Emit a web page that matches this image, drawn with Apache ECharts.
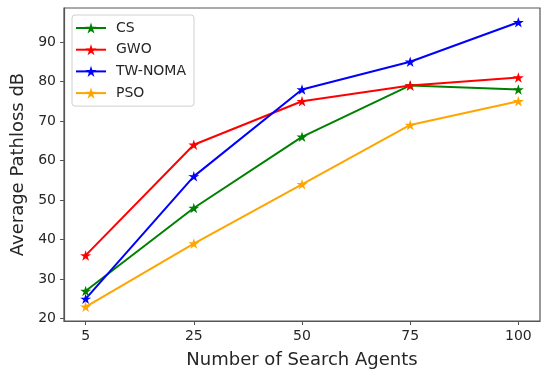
<!DOCTYPE html>
<html>
<head>
<meta charset="utf-8">
<script src="https://cdn.jsdelivr.net/npm/echarts@6/dist/echarts.min.js"></script>
<style>
html,body{margin:0;padding:0;background:#fff;}
#chart{width:550px;height:380px;}
</style>
</head>
<body>
<div id="chart"></div>
<script>
const categories = ['5', '25', '50', '75', '100'];
const csValues = [27, 48, 66, 79, 78];
const gwoValues = [36, 64, 75, 79, 81];
const twNomaValues = [25, 56, 78, 85, 95];
const psoValues = [23, 39, 54, 69, 75];
const yTicks = [20, 30, 40, 50, 60, 70, 80, 90];

const STAR = 'path://M50 0 L61.17 34.63 L97.55 34.55 L68.07 55.87 L79.39 90.45 L50 69 L20.61 90.45 L31.93 55.87 L2.45 34.55 L38.83 34.63 Z';
const idx = categories.map((c, i) => i);
const txt = '#262626';
const font = 'DejaVu Sans';

function mk(name, vals, color) {
  return {
    name: name,
    type: 'line',
    data: vals.map((v, i) => [i, v]),
    symbol: STAR,
    symbolSize: 11,
    symbolKeepAspect: true,
    showSymbol: true,
    lineStyle: { color: color, width: 2 },
    itemStyle: { color: color },
    emphasis: { disabled: true },
    animation: false
  };
}

const chart = echarts.init(document.getElementById('chart'), null, { renderer: 'canvas' });
chart.setOption({
  animation: false,
  backgroundColor: '#fff',
  textStyle: { fontFamily: font },
  grid: { left: 64, right: 10, top: 8, bottom: 59, show: true, borderColor: '#555', borderWidth: 1.2, backgroundColor: 'transparent' },
  legend: {
    orient: 'vertical',
    left: 72, top: 15,
    padding: [6, 8, 6, 3],
    itemWidth: 30, itemHeight: 14, itemGap: 7.7,
    backgroundColor: 'rgba(255,255,255,0.85)',
    borderColor: '#d0d0d0', borderWidth: 1, borderRadius: 3,
    textStyle: { fontFamily: font, fontSize: 14, color: txt, padding: [0, 0, 0, 5] },
    data: ['CS', 'GWO', 'TW-NOMA', 'PSO']
  },
  xAxis: {
    type: 'value', min: -0.2, max: 4.2,
    name: 'Number of Search Agents', nameLocation: 'middle', nameGap: 30,
    nameTextStyle: { fontFamily: font, fontSize: 18, color: txt },
    axisLine: { show: true, onZero: false, lineStyle: { color: '#555', width: 1.2 } },
    axisTick: { show: true, length: 4, customValues: idx, lineStyle: { color: '#555' } },
    axisLabel: { customValues: idx, formatter: v => categories[Math.round(v)], fontFamily: font, fontSize: 14, color: txt, margin: 8 },
    splitLine: { show: false }
  },
  yAxis: {
    type: 'value', min: 19.4, max: 98.6,
    name: 'Average Pathloss dB', nameLocation: 'middle', nameGap: 37, nameRotate: 90,
    nameTextStyle: { fontFamily: font, fontSize: 18, color: txt },
    axisLine: { show: true, onZero: false, lineStyle: { color: '#555', width: 1.2 } },
    axisTick: { show: true, length: 4, customValues: yTicks, lineStyle: { color: '#555' } },
    axisLabel: { customValues: yTicks, fontFamily: font, fontSize: 14, color: txt, margin: 8 },
    splitLine: { show: false }
  },
  series: [
    mk('CS', csValues, '#008000'),
    mk('GWO', gwoValues, '#ff0000'),
    mk('TW-NOMA', twNomaValues, '#0000ff'),
    mk('PSO', psoValues, '#ffa500')
  ]
});
</script>
</body>
</html>
